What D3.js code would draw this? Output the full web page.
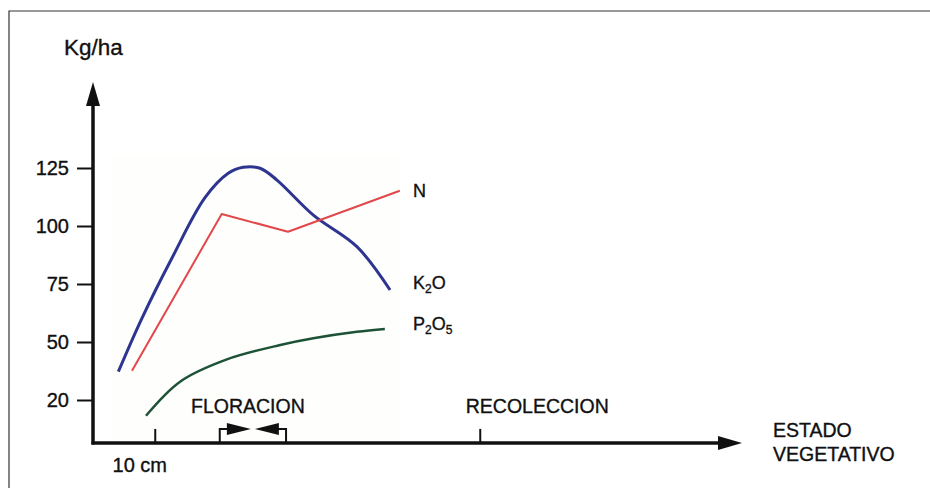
<!DOCTYPE html>
<html lang="es">
<head>
  <meta charset="UTF-8">
  <title>Absorción de nutrientes (Kg/ha)</title>
  <script src="https://d3js.org/d3.v7.min.js"></script>
  <style>
    body {
      margin: 0;
      background: #fff;
      font-family: "Liberation Sans", Arial, sans-serif;
    }
    text {
      fill: #111;
      stroke: #111;
      stroke-width: 0.35px;
    }
  </style>
</head>
<body>
  <svg width="930" height="488"></svg>

  <script>
    // Data (x: estado vegetativo, arbitrary units; y: Kg/ha)
    const k2oX = [3.9, 7.54, 12.15, 17.2, 20.8, 23.1, 25.7, 28.3, 33.9, 40.6, 45.7];
    const k2oY = [37.2, 60.3, 86.2, 112.1, 122.7, 125.3, 124.9, 119.8, 104.7, 91.1, 72.4];

    const nX = [6.0, 19.8, 30.0, 47.2];
    const nY = [37.6, 105.2, 97.5, 115.2];

    const p2o5X = [8.15, 13.4, 20.6, 28.8, 33.9, 40.6, 44.9];
    const p2o5Y = [18.2, 32.9, 42.5, 48.7, 51.6, 54.4, 55.6];

    const yTickPos = [25, 50, 75, 100, 125];
    const yTickLabels = ["20", "50", "75", "100", "125"];

    const xTickPos = [9.5, 59.5];
    const floracion = [19.5, 29.7];

    const svg = d3.select("svg");

    // Outer frame (top and left borders only)
    svg.append("path")
      .attr("d", "M9,488 V11 H930")
      .attr("fill", "none")
      .attr("stroke", "#333")
      .attr("stroke-width", 1.2);

    const x = d3.scaleLinear().domain([0, 100]).range([93, 743]);
    const y = d3.scaleLinear().domain([0, 125]).range([458, 168]);
    const axisY = y(6.5);

    // faint paper tint behind curves
    svg.append("rect")
      .attr("x", x(3)).attr("y", y(130))
      .attr("width", x(47) - x(3)).attr("height", y(8) - y(130))
      .attr("fill", "#fefefc");

    const smooth = d3.line()
      .x(d => x(d[0]))
      .y(d => y(d[1]))
      .curve(d3.curveCatmullRom.alpha(0.5));
    const straight = d3.line()
      .x(d => x(d[0]))
      .y(d => y(d[1]));

    const series = [
      { name: "K2O", xs: k2oX, ys: k2oY, color: "#2e3590", width: 3, gen: smooth },
      { name: "N", xs: nX, ys: nY, color: "#e2474b", width: 2, gen: straight },
      { name: "P2O5", xs: p2o5X, ys: p2o5Y, color: "#1d5236", width: 2.5, gen: smooth }
    ];

    series.forEach(s => {
      const pts = s.xs.map((v, i) => [v, s.ys[i]]);
      svg.append("path")
        .datum(pts)
        .attr("fill", "none")
        .attr("stroke", s.color)
        .attr("stroke-width", s.width)
        .attr("stroke-linejoin", "round")
        .attr("d", s.gen);
    });

    // Y axis with arrow
    const yAxis = d3.axisLeft(y)
      .tickValues(yTickPos)
      .tickFormat((d, i) => yTickLabels[i])
      .tickSize(16)
      .tickPadding(8);

    const gy = svg.append("g")
      .attr("transform", `translate(${x(0)},0)`)
      .call(yAxis);
    gy.select(".domain").remove();
    gy.selectAll(".tick line").attr("stroke", "#111").attr("stroke-width", 2);
    gy.selectAll(".tick text")
      .attr("font-size", 20)
      .attr("font-family", "Liberation Sans, Arial, sans-serif")
      .attr("fill", "#111");

    svg.append("line")
      .attr("x1", x(0)).attr("x2", x(0))
      .attr("y1", axisY + 1.5).attr("y2", 100)
      .attr("stroke", "#111").attr("stroke-width", 3.5);
    svg.append("path")
      .attr("d", `M${x(0)},82 L${x(0) - 7},106 L${x(0) + 7},106 Z`)
      .attr("fill", "#111");

    svg.append("text")
      .attr("x", 64).attr("y", 55)
      .attr("font-size", 22.5)
      .text("Kg/ha");

    // X axis with arrow
    svg.append("line")
      .attr("x1", x(0) - 1.5).attr("x2", 722)
      .attr("y1", axisY).attr("y2", axisY)
      .attr("stroke", "#111").attr("stroke-width", 3.5);
    svg.append("path")
      .attr("d", `M742,${axisY} L718,${axisY - 7} L718,${axisY + 7} Z`)
      .attr("fill", "#111");

    const gx = svg.append("g")
      .attr("transform", `translate(0,${axisY})`)
      .call(d3.axisTop(x).tickValues(xTickPos).tickFormat("").tickSize(14));
    gx.select(".domain").remove();
    gx.selectAll(".tick line").attr("stroke", "#111").attr("stroke-width", 2);

    svg.append("text")
      .attr("x", x(xTickPos[0]) - 15).attr("y", 472)
      .attr("text-anchor", "middle")
      .attr("font-size", 20)
      .text("10 cm");

    svg.append("text")
      .attr("x", x(xTickPos[1]) - 14).attr("y", 413)
      .attr("font-size", 19.5)
      .text("RECOLECCION");

    // Floración bracket
    const fx0 = x(floracion[0]), fx1 = x(floracion[1]);
    const fmid = (fx0 + fx1) / 2;
    const ftop = axisY - 14;
    svg.append("path")
      .attr("d", `M${fx0},${axisY} V${ftop} H${fmid - 10} M${fx1},${axisY} V${ftop} H${fmid + 10}`)
      .attr("fill", "none")
      .attr("stroke", "#111")
      .attr("stroke-width", 2);
    svg.append("path")
      .attr("d", `M${fmid - 2},${ftop} L${fmid - 26},${ftop - 6} L${fmid - 26},${ftop + 6} Z`)
      .attr("fill", "#111");
    svg.append("path")
      .attr("d", `M${fmid + 2},${ftop} L${fmid + 26},${ftop - 6} L${fmid + 26},${ftop + 6} Z`)
      .attr("fill", "#111");

    svg.append("text")
      .attr("x", fmid - 5).attr("y", 413)
      .attr("text-anchor", "middle")
      .attr("font-size", 19.5)
      .text("FLORACION");

    // Series labels
    const lab = svg.append("g").attr("font-size", 18);
    lab.append("text").attr("x", 413).attr("y", 197).text("N");

    const k = lab.append("text").attr("x", 413).attr("y", 289);
    k.append("tspan").text("K");
    k.append("tspan").attr("font-size", 12).attr("dy", 4).text("2");
    k.append("tspan").attr("dy", -4).text("O");

    const p = lab.append("text").attr("x", 413).attr("y", 330);
    p.append("tspan").text("P");
    p.append("tspan").attr("font-size", 12).attr("dy", 4).text("2");
    p.append("tspan").attr("dy", -4).text("O");
    p.append("tspan").attr("font-size", 12).attr("dy", 4).text("5");

    // Axis title
    const t = svg.append("text").attr("font-size", 19.5);
    t.append("tspan").attr("x", 773).attr("y", 437).text("ESTADO");
    t.append("tspan").attr("x", 773).attr("y", 461).text("VEGETATIVO");
  </script>
</body>
</html>
